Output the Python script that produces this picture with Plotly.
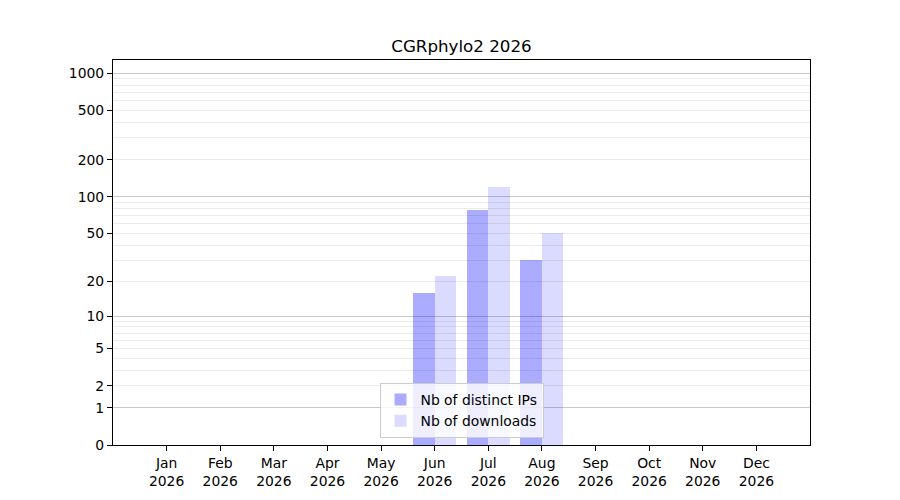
import numpy as np
import plotly.graph_objects as go

months = ["Jan", "Feb", "Mar", "Apr", "May", "Jun", "Jul", "Aug", "Sep", "Oct", "Nov", "Dec"]
year = "2026"
distinct_ips = [0, 0, 0, 0, 0, 16, 78, 30, 0, 0, 0, 0]
downloads = [0, 0, 0, 0, 0, 22, 120, 50, 0, 0, 0, 0]
labeled_ticks = [0, 1, 2, 5, 10, 20, 50, 100, 200, 500, 1000]
major_grid = [1, 10, 100, 1000]
minor_grid = [2, 3, 4, 5, 6, 7, 8, 9, 20, 30, 40, 50, 60, 70, 80, 90,
              200, 300, 400, 500, 600, 700, 800, 900]


def tr(v):
    return np.log10(np.asarray(v, dtype=float) + 1)


x = np.arange(len(months))
font = "DejaVu Sans"
fs = 13.9

fig = go.Figure()
fig.add_bar(x=x - 0.2, y=tr(distinct_ips), width=0.4,
            marker=dict(color="rgba(0,0,255,0.33)", line_width=0),
            name="Nb of distinct IPs")
fig.add_bar(x=x + 0.2, y=tr(downloads), width=0.4,
            marker=dict(color="rgba(0,0,255,0.14)", line_width=0),
            name="Nb of downloads")
fig.add_scatter(x=[], y=[], yaxis="y2", showlegend=False)

yr = [0, 3.108]
fig.update_layout(
    width=900, height=500,
    margin=dict(l=105, r=98, t=52, b=63),
    plot_bgcolor="white", paper_bgcolor="white",
    font=dict(family=font, size=fs, color="black"),
    barmode="overlay",
    title=dict(text="CGRphylo2 2026", x=0.5, xref="paper", y=1 - 37.7 / 500,
               yanchor="middle", xanchor="center",
               font=dict(family=font, size=16.7, color="black")),
    xaxis=dict(range=[-1, 12], tickmode="array", tickvals=list(x),
               ticktext=[f"{m}<br>{year}" for m in months],
               ticks="outside", ticklen=5, tickwidth=1.1, tickcolor="black",
               showgrid=False, zeroline=False, showline=True,
               linecolor="black", linewidth=1.1, mirror=True),
    yaxis=dict(range=yr, tickmode="array", tickvals=list(tr(labeled_ticks)),
               ticktext=[str(t) for t in labeled_ticks],
               ticks="outside", ticklen=5, tickwidth=1.1, tickcolor="black",
               showgrid=False, zeroline=False, showline=True,
               linecolor="black", linewidth=1.1, mirror=True,
               minor=dict(tickmode="array", tickvals=list(tr(minor_grid)),
                          showgrid=True, gridcolor="#ebebeb", gridwidth=1.1,
                          ticks="")),
    yaxis2=dict(range=yr, overlaying="y", side="left", tickmode="array",
                tickvals=list(tr(major_grid)), showticklabels=False,
                ticks="", showgrid=True, gridcolor="#c8c8c8", gridwidth=1.1,
                zeroline=False, showline=False),
    legend=dict(x=0.5, y=0.018, xanchor="center", yanchor="bottom",
                bgcolor="rgba(255,255,255,0.8)", bordercolor="#cccccc",
                borderwidth=1, font=dict(family=font, size=fs),
                tracegroupgap=2),
    bargap=0,
)

fig.write_html("out.html")
